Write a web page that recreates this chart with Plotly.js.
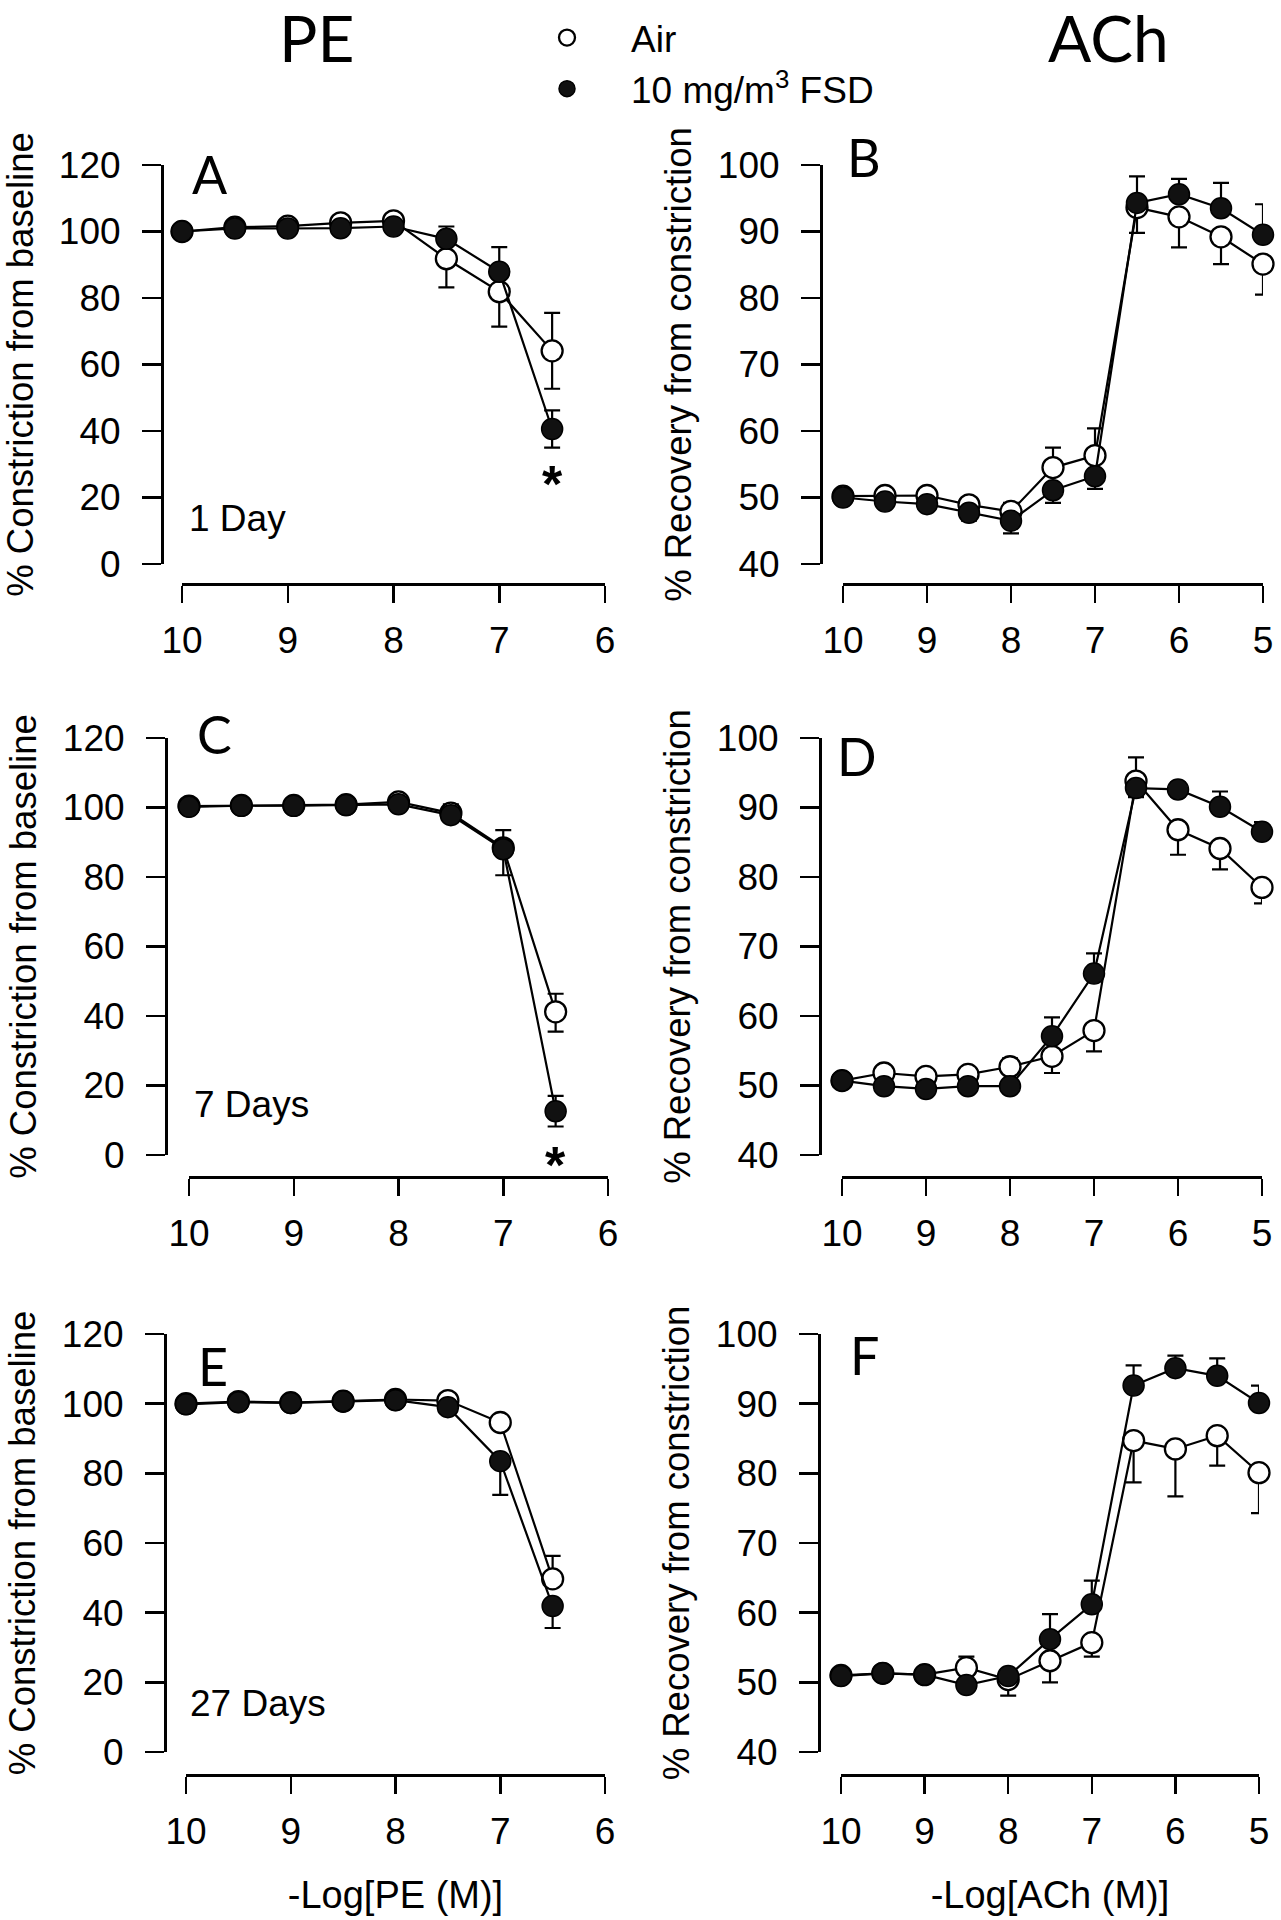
<!DOCTYPE html>
<html>
<head>
<meta charset="utf-8">
<script src="https://cdn.plot.ly/plotly-3.0.1.min.js"></script>
<style>
html, body { margin: 0; padding: 0; background: #ffffff; }
#chart { width: 1281px; height: 1920px; }
</style>
</head>
<body>
<div id="chart"></div>
<script>
// ---------------- DATA ----------------
const doseLogPE  = [10, 9.5, 9, 8.5, 8, 7.5, 7, 6.5];
const doseLogACh = [10, 9.5, 9, 8.5, 8, 7.5, 7, 6.5, 6, 5.5, 5];
const ticksPE  = [10, 9, 8, 7, 6];
const ticksACh = [10, 9, 8, 7, 6, 5];

const seriesNames = ['Air', '10 mg/m<sup>3</sup> FSD'];

// Panel A : PE, 1 day
const peDay1Air       = [100, 101.3, 101.6, 102.6, 103.2, 91.8, 81.9, 64.1];
const peDay1AirUp     = [null, null, null, null, null, null, null, 11.4];
const peDay1AirDown   = [null, null, null, null, null, 8.6, 10.5, 11.4];
const peDay1Fsd       = [100, 100.9, 100.9, 101.0, 101.5, 97.8, 87.9, 40.6];
const peDay1FsdUp     = [null, null, null, null, null, 3.7, 7.4, 5.6];
const peDay1FsdDown   = [null, null, null, null, null, null, null, 5.6];

// Panel B : ACh, 1 day
const achDay1Air      = [50.2, 50.3, 50.3, 48.9, 47.9, 54.5, 56.3, 93.6, 92.2, 89.2, 85.1];
const achDay1AirUp    = [null, null, 0.5, 1.0, 1.3, 3.0, 4.1, null, null, null, null];
const achDay1AirDown  = [null, null, null, null, null, null, null, 3.8, 4.6, 4.1, 4.6];
const achDay1Fsd      = [50.0, 49.4, 49.0, 47.7, 46.5, 51.1, 53.2, 94.3, 95.6, 93.5, 89.5];
const achDay1FsdUp    = [null, null, null, null, null, null, null, 4.0, 2.3, 3.8, 4.6];
const achDay1FsdDown  = [null, null, 1.0, 1.2, 1.9, 1.9, 1.9, null, null, null, null];

// Panel C : PE, 7 days
const peDay7Air       = [100.4, 100.6, 100.6, 100.8, 101.6, 98.4, 88.4, 41.2];
const peDay7AirUp     = [null, null, null, null, null, 2.5, null, 5.2];
const peDay7AirDown   = [null, null, null, null, null, 2.5, 7.9, 5.7];
const peDay7Fsd       = [100.2, 100.5, 100.5, 100.7, 100.9, 97.8, 88.0, 12.6];
const peDay7FsdUp     = [null, null, null, null, null, 2.0, 5.5, 4.4];
const peDay7FsdDown   = [null, null, null, null, null, 2.0, null, 4.4];

// Panel D : ACh, 7 days
const achDay7Air      = [50.7, 51.8, 51.3, 51.6, 52.7, 54.2, 57.9, 93.8, 86.8, 84.1, 78.5];
const achDay7AirUp    = [null, null, null, 0.8, 1.2, null, null, 3.4, null, null, null];
const achDay7AirDown  = [null, null, null, null, null, 2.4, 3.0, null, 3.6, 3.0, 2.3];
const achDay7Fsd      = [50.7, 49.9, 49.5, 49.9, 49.9, 57.1, 66.1, 92.8, 92.6, 90.1, 86.5];
const achDay7FsdUp    = [null, null, null, null, null, 2.7, 2.9, null, 1.0, 2.2, 1.4];
const achDay7FsdDown  = [null, null, null, 0.8, 1.0, null, null, 1.3, 1.0, null, null];

// Panel E : PE, 27 days
const peDay27Air      = [100.0, 100.6, 100.3, 100.7, 101.2, 100.9, 94.6, 49.7];
const peDay27AirUp    = [null, null, null, null, null, null, 1.6, 6.6];
const peDay27AirDown  = [null, null, null, null, null, null, null, null];
const peDay27Fsd      = [99.8, 100.4, 100.2, 100.7, 101.0, 99.0, 83.5, 41.9];
const peDay27FsdUp    = [null, null, null, null, null, null, null, null];
const peDay27FsdDown  = [null, null, null, null, null, 1.9, 9.7, 6.3];

// Panel F : ACh, 27 days
const achDay27Air     = [51.0, 51.3, 51.1, 52.1, 50.4, 53.1, 55.7, 84.7, 83.5, 85.4, 80.1];
const achDay27AirUp   = [null, null, null, 1.6, null, null, null, null, null, null, null];
const achDay27AirDown = [null, null, null, null, 2.3, 3.1, 2.0, 6.0, 6.8, 4.3, 5.8];
const achDay27Fsd     = [50.9, 51.3, 51.1, 49.6, 50.9, 56.2, 61.2, 92.6, 95.1, 94.0, 90.1];
const achDay27FsdUp   = [null, null, null, null, null, 3.6, 3.4, 2.9, 1.8, 2.5, 2.5];
const achDay27FsdDown = [null, null, null, null, null, null, null, null, null, null, null];

// significance markers (x, y in data units)
const sigA = {x: 6.5, y: 27};
const sigC = {x: 6.5, y: 0};

// ---------------- LAYOUT HELPERS ----------------
const W = 1281, H = 1920;
const fx = px => px / W;
const fy = py => 1 - py / H;
const ARIAL = 'Liberation Sans, Arial, Helvetica, sans-serif';
const CALIBRI = 'Lato, Carlito, Calibri, sans-serif';
const INK = '#000000';

const panels = [
  {ax: '',  label: 'A', dose: doseLogPE,  ticks: ticksPE,  xr: [10, 6], yr: [0, 120], ytick: 20,
   air: peDay1Air, airUp: peDay1AirUp, airDn: peDay1AirDown, fsd: peDay1Fsd, fsdUp: peDay1FsdUp, fsdDn: peDay1FsdDown,
   g: {yLineX: 162, yTop: 165, yBot: 564, xLineY: 584, xLeft: 182, xRight: 605}, lab: [210, 174],
   ytitle: '% Constriction from baseline'},
  {ax: '2', label: 'B', dose: doseLogACh, ticks: ticksACh, xr: [10, 5], yr: [40, 100], ytick: 10,
   air: achDay1Air, airUp: achDay1AirUp, airDn: achDay1AirDown, fsd: achDay1Fsd, fsdUp: achDay1FsdUp, fsdDn: achDay1FsdDown,
   g: {yLineX: 821, yTop: 165, yBot: 564, xLineY: 584, xLeft: 843, xRight: 1263}, lab: [864, 157],
   ytitle: '% Recovery from constriction'},
  {ax: '3', label: 'C', dose: doseLogPE,  ticks: ticksPE,  xr: [10, 6], yr: [0, 120], ytick: 20,
   air: peDay7Air, airUp: peDay7AirUp, airDn: peDay7AirDown, fsd: peDay7Fsd, fsdUp: peDay7FsdUp, fsdDn: peDay7FsdDown,
   g: {yLineX: 166, yTop: 738, yBot: 1155, xLineY: 1177, xLeft: 189, xRight: 608}, lab: [214, 734],
   ytitle: '% Constriction from baseline'},
  {ax: '4', label: 'D', dose: doseLogACh, ticks: ticksACh, xr: [10, 5], yr: [40, 100], ytick: 10,
   air: achDay7Air, airUp: achDay7AirUp, airDn: achDay7AirDown, fsd: achDay7Fsd, fsdUp: achDay7FsdUp, fsdDn: achDay7FsdDown,
   g: {yLineX: 820, yTop: 738, yBot: 1155, xLineY: 1177, xLeft: 842, xRight: 1262}, lab: [857, 756],
   ytitle: '% Recovery from constriction'},
  {ax: '5', label: 'E', dose: doseLogPE,  ticks: ticksPE,  xr: [10, 6], yr: [0, 120], ytick: 20,
   air: peDay27Air, airUp: peDay27AirUp, airDn: peDay27AirDown, fsd: peDay27Fsd, fsdUp: peDay27FsdUp, fsdDn: peDay27FsdDown,
   g: {yLineX: 165, yTop: 1334, yBot: 1752, xLineY: 1775, xLeft: 186, xRight: 605}, lab: [213, 1366],
   ytitle: '% Constriction from baseline', xtitle: '-Log[PE (M)]'},
  {ax: '6', label: 'F', dose: doseLogACh, ticks: ticksACh, xr: [10, 5], yr: [40, 100], ytick: 10,
   air: achDay27Air, airUp: achDay27AirUp, airDn: achDay27AirDown, fsd: achDay27Fsd, fsdUp: achDay27FsdUp, fsdDn: achDay27FsdDown,
   g: {yLineX: 819, yTop: 1334, yBot: 1752, xLineY: 1775, xLeft: 841, xRight: 1259}, lab: [864, 1355],
   ytitle: '% Recovery from constriction', xtitle: '-Log[ACh (M)]'}
];

const openMarker = {symbol: 'circle', size: 21, color: '#ffffff', line: {color: INK, width: 2.3}};
const fillMarker = {symbol: 'circle', size: 21, color: '#111111', line: {color: INK, width: 1.5}};

function errCfg(up, dn) {
  return {type: 'data', symmetric: false, array: up, arrayminus: dn,
          color: INK, thickness: 2.2, width: 8, visible: true};
}

const traces = [];
const layout = {
  width: W, height: H,
  margin: {l: 0, r: 0, t: 0, b: 0, pad: 0},
  paper_bgcolor: '#ffffff', plot_bgcolor: 'rgba(0,0,0,0)',
  showlegend: true,
  legend: {x: fx(503), y: fy(7), xanchor: 'left', yanchor: 'top',
           font: {family: ARIAL, size: 37, color: INK},
           bgcolor: 'rgba(0,0,0,0)', borderwidth: 0, itemwidth: 118, tracegroupgap: 0},
  font: {family: ARIAL, color: INK},
  annotations: [],
  hovermode: false
};

panels.forEach(p => {
  const xa = 'x' + p.ax, ya = 'y' + p.ax;
  traces.push({type: 'scatter', mode: 'lines+markers', x: p.dose, y: p.air, xaxis: xa, yaxis: ya,
    name: seriesNames[0], showlegend: false, cliponaxis: false,
    line: {color: INK, width: 2.2}, marker: openMarker, error_y: errCfg(p.airUp, p.airDn)});
  traces.push({type: 'scatter', mode: 'lines+markers', x: p.dose, y: p.fsd, xaxis: xa, yaxis: ya,
    name: seriesNames[1], showlegend: false, cliponaxis: false,
    line: {color: INK, width: 2.2}, marker: fillMarker, error_y: errCfg(p.fsdUp, p.fsdDn)});

  const g = p.g;
  const xKey = 'xaxis' + p.ax, yKey = 'yaxis' + p.ax;
  layout[xKey] = {
    domain: [fx(g.xLeft), fx(g.xRight)], range: p.xr,
    anchor: 'free', position: fy(g.xLineY),
    tickmode: 'array', tickvals: p.ticks, ticktext: p.ticks.map(String),
    ticks: 'outside', ticklen: 17, tickwidth: 2.5, tickcolor: INK,
    showline: true, linewidth: 2.5, linecolor: INK,
    showgrid: false, zeroline: false, fixedrange: true,
    tickfont: {family: ARIAL, size: 37, color: INK},
    ticklabelstandoff: 6
  };
  if (p.xtitle) {
    layout[xKey].title = {text: p.xtitle, font: {family: ARIAL, size: 38, color: INK}, standoff: 30};
  }
  layout[yKey] = {
    domain: [fy(g.yBot), fy(g.yTop)], range: p.yr,
    anchor: 'free', position: fx(g.yLineX),
    tickmode: 'linear', tick0: p.yr[0], dtick: p.ytick,
    ticks: 'outside', ticklen: 19, tickwidth: 2.5, tickcolor: INK,
    showline: true, linewidth: 2.5, linecolor: INK,
    showgrid: false, zeroline: false, fixedrange: true,
    tickfont: {family: ARIAL, size: 37, color: INK},
    ticklabelstandoff: 14,
    title: {text: p.ytitle, font: {family: ARIAL, size: 36.5, color: INK}, standoff: 14}
  };

  layout.annotations.push({xref: 'paper', yref: 'paper', x: fx(p.lab[0]), y: fy(p.lab[1]),
    xanchor: 'center', yanchor: 'middle', text: p.label, showarrow: false,
    font: {family: CALIBRI, size: 52, color: INK}});
});

// legend-only entries (symbols only, as in the reference)
traces.push({type: 'scatter', mode: 'markers', x: [null], y: [null], xaxis: 'x', yaxis: 'y',
  name: seriesNames[0], marker: openMarker, showlegend: true, hoverinfo: 'skip'});
traces.push({type: 'scatter', mode: 'markers', x: [null], y: [null], xaxis: 'x', yaxis: 'y',
  name: seriesNames[1], marker: fillMarker, showlegend: true, hoverinfo: 'skip'});

// column headers (explicit box height keeps the box inside the page)
layout.annotations.push({xref: 'paper', yref: 'paper', x: fx(316), y: fy(37), xanchor: 'center', yanchor: 'middle',
  height: 66, valign: 'middle',
  text: 'PE', showarrow: false, font: {family: CALIBRI, size: 64, color: INK}});
layout.annotations.push({xref: 'paper', yref: 'paper', x: fx(1108), y: fy(37), xanchor: 'center', yanchor: 'middle',
  height: 66, valign: 'middle',
  text: 'ACh', showarrow: false, font: {family: CALIBRI, size: 64, color: INK}});

// time-point labels
[['1 Day', 187, 519], ['7 Days', 192, 1104], ['27 Days', 188, 1703]].forEach(t => {
  layout.annotations.push({xref: 'paper', yref: 'paper', x: fx(t[1]), y: fy(t[2]),
    xanchor: 'left', yanchor: 'middle', text: t[0], showarrow: false,
    font: {family: ARIAL, size: 37, color: INK}});
});

// significance asterisks
layout.annotations.push({xref: 'x', yref: 'y', x: sigA.x, y: sigA.y, xanchor: 'center', yanchor: 'middle',
  text: '<b>*</b>', showarrow: false, yshift: -10, font: {family: ARIAL, size: 52, color: INK}});
layout.annotations.push({xref: 'x3', yref: 'y3', x: sigC.x, y: sigC.y, xanchor: 'center', yanchor: 'middle',
  text: '<b>*</b>', showarrow: false, yshift: -10, font: {family: ARIAL, size: 52, color: INK}});

Plotly.newPlot('chart', traces, layout, {staticPlot: true, displayModeBar: false});
</script>
</body>
</html>
